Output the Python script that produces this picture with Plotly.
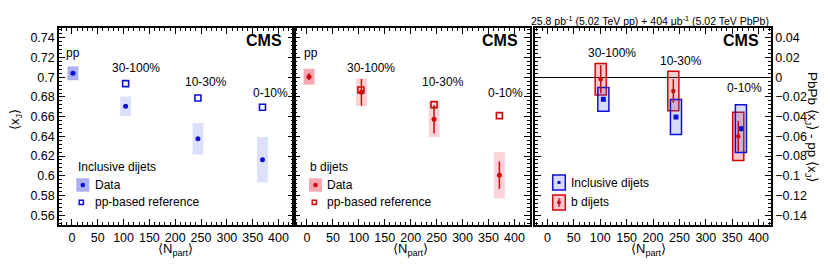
import plotly.graph_objects as go

# ---------------- data ----------------
cent_labels = ["pp", "30-100%", "10-30%", "0-10%"]

# Panel 1: inclusive dijets
npart_incl = [2, 104, 244, 369]
xj_incl = [0.7040, 0.6705, 0.6376, 0.6163]
sys_incl = [0.0070, 0.0100, 0.0160, 0.0230]
npart_incl_ref = [104, 244, 369]
ref_incl = [0.6935, 0.6789, 0.6695]

# Panel 2: b dijets
npart_b = [4, 105, 245, 371]
xj_b = [0.7006, 0.6847, 0.6573, 0.6005]
stat_b = [0.0034, 0.0135, 0.0145, 0.0140]
sys_b = [0.0080, 0.0140, 0.0180, 0.0235]
npart_b_ref = [104, 245, 371]
ref_b = [0.6870, 0.6722, 0.6610]

# Panel 3: PbPb <xJ> - pp-based reference <xJ>
npart_diff_incl = [106, 243.5, 366.5]
diff_incl = [-0.0224, -0.0404, -0.0522]
diff_incl_sys = [0.0120, 0.0177, 0.0242]
npart_diff_b = [101, 238.5, 361.5]
diff_b = [-0.0021, -0.0140, -0.0600]
diff_b_stat = [0.0143, 0.0120, 0.0156]
diff_b_sys = [0.0160, 0.0200, 0.0244]

x_tick_vals = [0, 50, 100, 150, 200, 250, 300, 350, 400]
x_tick_text = ["0", "50", "100", "150", "200", "250", "300", "350", "400"]
y_tick_vals = [0.56, 0.58, 0.60, 0.62, 0.64, 0.66, 0.68, 0.70, 0.72, 0.74]
y_tick_text = ["0.56", "0.58", "0.6", "0.62", "0.64", "0.66", "0.68", "0.7", "0.72", "0.74"]
d_tick_vals = [-0.14, -0.12, -0.10, -0.08, -0.06, -0.04, -0.02, 0.0, 0.02, 0.04]
d_tick_text = ["\u22120.14", "\u22120.12", "\u22120.1", "\u22120.08", "\u22120.06",
               "\u22120.04", "\u22120.02", "0", "0.02", "0.04"]

# ---------------- style ----------------
# the page body has an 8 px margin; the figure is sized to fill the rest of the window
OFF = 8
W, H = 830 - OFF, 265 - OFF
FONT = "Liberation Sans, Arial, Helvetica, sans-serif"
BLUE = "#1010d4"
RED = "#cc0a0a"
BLUE_PP = "#aab0f2"
BLUE_BOX = "#dde0fa"
RED_PP = "#f6a7b0"
RED_BOX = "#fcd3d8"
BLUE_FILL3 = "rgba(70,90,230,0.22)"
RED_FILL3 = "rgba(225,50,70,0.27)"


def px(x):
    return (x - OFF) / W


def py(y):
    return 1 - (y - OFF) / H


fig = go.Figure()

# ---- panel 1 ----
fig.add_trace(go.Bar(
    x=npart_incl, y=[2 * s for s in sys_incl],
    base=[v - s for v, s in zip(xj_incl, sys_incl)], width=21,
    marker=dict(color=[BLUE_PP, BLUE_BOX, BLUE_BOX, BLUE_BOX], line=dict(width=0)),
    xaxis="x", yaxis="y", showlegend=False, hoverinfo="skip"))
fig.add_trace(go.Scatter(
    x=npart_incl_ref, y=ref_incl, mode="markers",
    marker=dict(symbol="square-open", size=6, color=BLUE, line=dict(width=1.6, color=BLUE)),
    xaxis="x", yaxis="y", showlegend=False))
fig.add_trace(go.Scatter(
    x=npart_incl, y=xj_incl, mode="markers",
    marker=dict(symbol="circle", size=5, color=BLUE),
    xaxis="x", yaxis="y", showlegend=False))

# ---- panel 2 ----
fig.add_trace(go.Bar(
    x=npart_b, y=[2 * s for s in sys_b],
    base=[v - s for v, s in zip(xj_b, sys_b)], width=21,
    marker=dict(color=[RED_PP, RED_BOX, RED_BOX, RED_BOX], line=dict(width=0)),
    xaxis="x2", yaxis="y2", showlegend=False, hoverinfo="skip"))
fig.add_trace(go.Scatter(
    x=npart_b_ref, y=ref_b, mode="markers",
    marker=dict(symbol="square-open", size=6, color=RED, line=dict(width=1.6, color=RED)),
    xaxis="x2", yaxis="y2", showlegend=False))
fig.add_trace(go.Scatter(
    x=npart_b, y=xj_b, mode="markers",
    marker=dict(symbol="circle", size=5, color=RED),
    error_y=dict(type="data", array=stat_b, width=0, thickness=1.5, color=RED),
    xaxis="x2", yaxis="y2", showlegend=False))

# ---- panel 3 ----
fig.add_trace(go.Bar(
    x=npart_diff_b, y=[2 * s for s in diff_b_sys],
    base=[v - s for v, s in zip(diff_b, diff_b_sys)], width=21,
    marker=dict(color=RED_FILL3, line=dict(width=1.5, color=RED)),
    xaxis="x3", yaxis="y3", showlegend=False, hoverinfo="skip"))
fig.add_trace(go.Bar(
    x=npart_diff_incl, y=[2 * s for s in diff_incl_sys],
    base=[v - s for v, s in zip(diff_incl, diff_incl_sys)], width=21,
    marker=dict(color=BLUE_FILL3, line=dict(width=1.5, color=BLUE)),
    xaxis="x3", yaxis="y3", showlegend=False, hoverinfo="skip"))
fig.add_trace(go.Scatter(
    x=npart_diff_incl, y=diff_incl, mode="markers",
    marker=dict(symbol="square", size=5, color=BLUE),
    xaxis="x3", yaxis="y3", showlegend=False))
fig.add_trace(go.Scatter(
    x=npart_diff_b, y=diff_b, mode="markers",
    marker=dict(symbol="circle", size=4.5, color=RED),
    error_y=dict(type="data", array=diff_b_stat, width=0, thickness=1.5, color=RED),
    xaxis="x3", yaxis="y3", showlegend=False))


# ---------------- axes ----------------
def xaxis(dom, rng, anchor):
    return dict(domain=dom, range=rng, anchor=anchor,
                showline=True, linecolor="black", linewidth=1.5, mirror="ticks",
                ticks="inside", ticklen=6, tickwidth=1, tickcolor="black",
                tickmode="array", tickvals=x_tick_vals, ticktext=x_tick_text,
                minor=dict(tickmode="linear", tick0=0, dtick=10, ticks="inside",
                           ticklen=3, tickwidth=1, tickcolor="black"),
                showgrid=False, zeroline=False,
                tickfont=dict(family=FONT, size=12.5, color="black"))


def yaxis(dom, rng, anchor, vals, text, side="left", labels=True, zl=False):
    return dict(domain=dom, range=rng, anchor=anchor, side=side,
                showline=True, linecolor="black", linewidth=1.5, mirror="ticks",
                ticks="inside", ticklen=6, tickwidth=1, tickcolor="black",
                tickmode="array", tickvals=vals, ticktext=text,
                showticklabels=labels,
                minor=dict(tickmode="linear", tick0=0, dtick=0.004, ticks="inside",
                           ticklen=3, tickwidth=1, tickcolor="black"),
                showgrid=False, zeroline=zl, zerolinecolor="black", zerolinewidth=1.2,
                tickfont=dict(family=FONT, size=12.5, color="black"))


YDOM = [py(225), py(28)]
fig.update_layout(
    width=W, height=H, margin=dict(l=0, r=0, t=0, b=0),
    paper_bgcolor="white", plot_bgcolor="white",
    barmode="overlay", showlegend=False,
    font=dict(family=FONT, size=12, color="black"),
    xaxis=xaxis([px(59), px(294)], [-25, 430], "y"),
    yaxis=yaxis(YDOM, [0.55, 0.75], "x", y_tick_vals, y_tick_text),
    xaxis2=xaxis([px(294), px(530)], [-25, 430], "y2"),
    yaxis2=yaxis(YDOM, [0.55, 0.75], "x2", y_tick_vals, y_tick_text, labels=False),
    xaxis3=xaxis([px(535), px(771)], [-23.5, 423.5], "y3"),
    yaxis3=yaxis(YDOM, [-0.15, 0.05], "x3", d_tick_vals, d_tick_text, side="right", zl=True),
)

ann = []


def txt(x, y, s, size=12, xanchor="center", yanchor="middle", angle=0, xref="paper", yref="paper"):
    ann.append(dict(x=x, y=y, xref=xref, yref=yref, text=s, showarrow=False,
                    xanchor=xanchor, yanchor=yanchor, textangle=angle,
                    font=dict(family=FONT, size=size, color="black")))


# centrality labels (text positions)
lab1 = [(3, 0.7246), (124, 0.7097), (260, 0.6952), (384, 0.6840)]
for (xx, yy), s in zip(lab1, cent_labels):
    txt(xx, yy, s, xref="x", yref="y")
lab2 = [(8, 0.7246), (124, 0.7097), (262, 0.6952), (382, 0.6840)]
for (xx, yy), s in zip(lab2, cent_labels):
    txt(xx, yy, s, xref="x2", yref="y2")
lab3 = [(122.7, 0.0246), (253.5, 0.0165), (373, -0.0109)]
for (xx, yy), s in zip(lab3, cent_labels[1:]):
    txt(xx, yy, s, xref="x3", yref="y3")

# CMS labels
for xr in (284, 520, 761):
    txt(px(xr), py(40), "<b>CMS</b>", size=16, xanchor="right")

# luminosity
txt(px(771), py(20), "25.8 pb<sup>-1</sup> (5.02 TeV pp) + 404 \u03bcb<sup>-1</sup> (5.02 TeV PbPb)",
    size=10.5, xanchor="right")

# axis titles
txt(px(15), py(120), "\u27e8x<sub>J</sub>\u27e9", size=13, angle=-90)
txt(px(812), py(127), "PbPb \u27e8x<sub>J</sub>\u27e9 - pp \u27e8x<sub>J</sub>\u27e9", size=13.5, angle=90)
for xc in (175, 410, 648):
    txt(px(xc), py(249), "\u27e8N<sub>part</sub>\u27e9", size=13)

# legends (text)
txt(px(76), py(167), "Inclusive dijets", xanchor="left")
txt(px(93), py(184.5), "Data", xanchor="left")
txt(px(93), py(202), "pp-based reference", xanchor="left")
txt(px(308), py(167), "b dijets", xanchor="left")
txt(px(325), py(184.5), "Data", xanchor="left")
txt(px(325), py(202), "pp-based reference", xanchor="left")
txt(px(569), py(182.7), "Inclusive dijets", xanchor="left")
txt(px(569), py(202), "b dijets", xanchor="left")

fig.update_layout(annotations=ann)

# legend glyphs
shapes = []


def rect(x0, y0, x1, y1, fill, line_color=None, lw=0):
    shapes.append(dict(type="rect", xref="paper", yref="paper",
                       x0=px(x0), x1=px(x1), y0=py(y1), y1=py(y0),
                       fillcolor=fill, line=dict(color=line_color or fill, width=lw), layer="above"))


def circ(cx, cy, r, color):
    shapes.append(dict(type="circle", xref="paper", yref="paper",
                       x0=px(cx - r), x1=px(cx + r), y0=py(cy + r), y1=py(cy - r),
                       fillcolor=color, line=dict(color=color, width=0), layer="above"))


def vline(x, y0, y1, color, lw=1.5):
    shapes.append(dict(type="line", xref="paper", yref="paper",
                       x0=px(x), x1=px(x), y0=py(y1), y1=py(y0),
                       line=dict(color=color, width=lw), layer="above"))


# panel 1 legend
rect(76.3, 178.3, 89.3, 191.7, BLUE_PP)
circ(82.8, 185, 2.3, BLUE)
rect(79.2, 200.2, 83.4, 204.4, "rgba(0,0,0,0)", BLUE, 1.5)
# panel 2 legend
rect(309, 178.3, 322, 191.7, RED_PP)
circ(315.5, 185, 2.3, RED)
rect(312.2, 200.2, 316.4, 204.4, "rgba(0,0,0,0)", RED, 1.5)
# panel 3 legend
rect(552.7, 175, 565.3, 190, BLUE_FILL3, BLUE, 1.5)
rect(557.5, 181, 560.5, 184, BLUE, BLUE, 0)
rect(552.7, 195, 565.3, 210, RED_FILL3, RED, 1.5)
vline(559, 198, 207, RED, 1.2)
circ(559, 202.5, 2, RED)

fig.update_layout(shapes=shapes)

fig.write_html("out.html")
